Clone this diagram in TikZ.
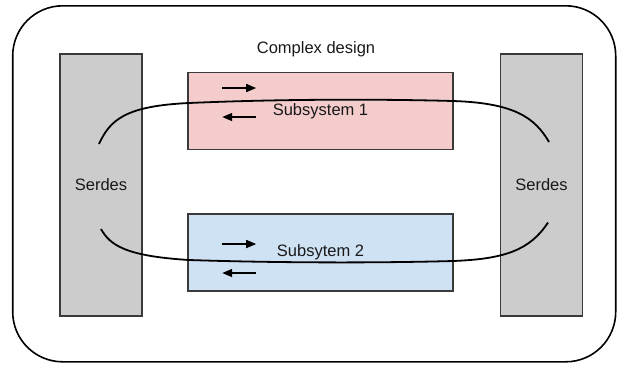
\documentclass[tikz,border=0pt]{standalone}
\usepackage{fontspec}
\setmainfont{Liberation Sans}
\usetikzlibrary{arrows.meta, positioning, calc}
\definecolor{serdesgray}{HTML}{CCCCCC}
\definecolor{subred}{HTML}{F4CCCC}
\definecolor{subblue}{HTML}{CFE2F3}
\definecolor{edgegray}{HTML}{3A3A3A}
\tikzset{
    block/.style={draw=edgegray, line width=1.6pt, inner sep=0pt, font=\fontsize{16.5}{19}\selectfont, text=black!90},
    serdes/.style={block, fill=serdesgray, minimum width=82pt, minimum height=262pt},
    subsys/.style={block, minimum width=265pt, minimum height=77pt},
    link/.style={line width=1.8pt, black},
    flow/.style={-{Triangle[length=10pt, width=8pt]}, line width=1.6pt, black}
}

\begin{document}
\begin{tikzpicture}[x=1pt, y=-1pt]
      \useasboundingbox (0,0) rectangle (617,365);
      \node (design) [draw=black, line width=1.6pt, rounded corners=50pt, minimum width=603pt, minimum height=356pt] at (314.2,183.8) {};
      \node (title) [anchor=base, font=\fontsize{16.5}{19}\selectfont, text=black!90] at (316,53.3) {Complex design};

      \node (serdesL) [serdes] at (101,185) {Serdes};
      \node (serdesR) [serdes] at (541.5,185) {Serdes};
      \node (sub1) [subsys, fill=subred] at (320.5,111) {Subsystem 1};
      \node (sub2) [subsys, fill=subblue] at (320.5,252.5) {Subsytem 2};

      % direction marks
      \draw [flow] ($(sub1.west)+(35,-23)$) -- ($(sub1.west)+(69,-23)$);
      \draw [flow] ($(sub1.west)+(69,6)$) -- ($(sub1.west)+(35,6)$);
      \draw [flow] ($(sub2.west)+(35,-8.5)$) -- ($(sub2.west)+(69,-8.5)$);
      \draw [flow] ($(sub2.west)+(69,20.5)$) -- ($(sub2.west)+(35,20.5)$);

      % links between the serdes
      \coordinate (tl) at (99,144);
      \coordinate (tr) at (549,142);
      \coordinate (bl) at (101,229);
      \coordinate (br) at (548,222.5);
      \draw [link] (tl) .. controls (110,120) and (125,106) .. (189,103)
            .. controls (280,99) and (380,99) .. (453,101)
            .. controls (515,103) and (535,118) .. (tr);
      \draw [link] (bl) .. controls (110,245) and (125,256) .. (189,260)
            .. controls (280,263) and (380,263) .. (453,261)
            .. controls (505,259) and (530,250) .. (br);
\end{tikzpicture}
\end{document}
